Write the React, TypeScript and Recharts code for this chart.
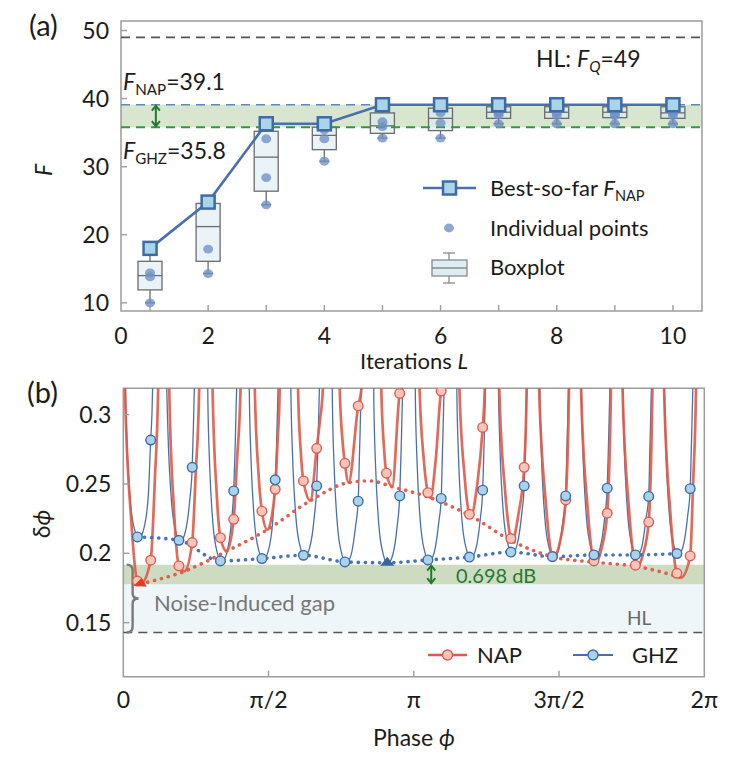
import React from 'react'
import { ComposedChart, Line, Bar, Scatter, XAxis, YAxis, ReferenceLine, ReferenceArea } from 'recharts'

const FONT = "Lato, 'DejaVu Sans', sans-serif"
const INK = '#1b1b1b'
const FRAME = '#9c9c9c'

// ---------- (a) Fisher information vs iterations ----------
const iterations = [1, 2, 3, 4, 5, 6, 7, 8, 9, 10]
const bestSoFarF = [18.0, 24.8, 36.3, 36.3, 39.1, 39.1, 39.1, 39.1, 39.1, 39.1]
// [min, q1, median, q3, max]
const boxStats = [
  [10.0, 11.9, 14.0, 16.1, 18.0],
  [14.3, 16.1, 21.2, 24.6, 24.8],
  [24.4, 26.4, 31.4, 35.2, 36.3],
  [30.8, 32.5, 34.6, 35.8, 36.3],
  [34.2, 34.9, 36.0, 37.9, 39.1],
  [34.2, 35.3, 37.1, 38.6, 39.1],
  [36.3, 37.1, 38.0, 38.8, 39.1],
  [36.3, 37.1, 38.0, 38.8, 39.1],
  [36.3, 37.2, 38.0, 38.8, 39.1],
  [36.3, 37.1, 37.9, 38.8, 39.1],
]
const individualF = [
  [18.0, 14.4, 13.8, 10.0],
  [24.8, 17.9, 14.3],
  [36.3, 34.1, 28.4, 24.4],
  [36.3, 35.4, 34.1, 30.8],
  [39.1, 36.6, 35.9, 34.2],
  [39.1, 37.9, 36.4, 34.2],
  [39.1, 37.9, 37.6, 36.3],
  [39.1, 37.9, 37.5, 36.3],
  [39.1, 37.8, 37.5, 36.3],
  [39.1, 37.9, 37.5, 36.3],
]
const fTicks = [10, 20, 30, 40, 50]
const iterTicks = [0.5, 1, 2, 3, 4, 5, 6, 7, 8, 9, 10]
const iterTickLabels: Record<string, string> = { '0.5': '0', '2': '2', '4': '4', '6': '6', '8': '8', '10': '10' }
const F_Q = 49
const F_NAP = 39.1
const F_GHZ = 35.8

// ---------- (b) phase sensitivity, phase in units of pi/7 ----------
const phaseTicks = [0, 3.5, 7, 10.5, 14]
const phaseTickLabels = ['0', 'π/2', 'π', '3π/2', '2π']
const dphiTicks = [0.15, 0.2, 0.25, 0.3]
const HL = 0.1429
const NAP_BEST = 0.1777
const GHZ_BEST = 0.1918

const ghzCurve = [
  [0, 0.42], [0.04, 0.333], [0.08, 0.287], [0.16, 0.2405], [0.27, 0.2173], [0.34, 0.2118], [0.38, 0.211], [0.49, 0.2173], [0.6, 0.2405], [0.66, 0.2817], [0.69, 0.3], [0.73, 0.35], [0.78, 0.42],
  [1, 0.42], [1.04, 0.3297], [1.08, 0.2838], [1.16, 0.2379], [1.27, 0.215], [1.34, 0.2094], [1.38, 0.2087], [1.49, 0.215], [1.6, 0.2379], [1.66, 0.262], [1.69, 0.2922], [1.73, 0.3423], [1.78, 0.42],
  [2, 0.42], [2.04, 0.3065], [2.08, 0.2638], [2.16, 0.2212], [2.27, 0.1998], [2.34, 0.1945], [2.38, 0.194], [2.49, 0.1998], [2.6, 0.2212], [2.66, 0.245], [2.69, 0.2716], [2.73, 0.3182], [2.78, 0.42],
  [3, 0.42], [3.04, 0.3089], [3.08, 0.2659], [3.16, 0.2229], [3.27, 0.2014], [3.34, 0.1962], [3.38, 0.1955], [3.49, 0.2014], [3.6, 0.2229], [3.66, 0.253], [3.69, 0.2737], [3.73, 0.3206], [3.78, 0.42],
  [4, 0.42], [4.04, 0.3128], [4.08, 0.2693], [4.16, 0.2257], [4.27, 0.2039], [4.34, 0.1986], [4.38, 0.198], [4.49, 0.2039], [4.6, 0.2257], [4.66, 0.2486], [4.69, 0.2772], [4.73, 0.3247], [4.78, 0.42],
  [5, 0.42], [5.04, 0.3053], [5.08, 0.2628], [5.16, 0.2202], [5.27, 0.199], [5.34, 0.1938], [5.38, 0.1932], [5.49, 0.199], [5.6, 0.2202], [5.66, 0.2376], [5.69, 0.2705], [5.73, 0.3168], [5.78, 0.42],
  [6, 0.42], [6.04, 0.3046], [6.08, 0.2622], [6.16, 0.2198], [6.27, 0.1986], [6.34, 0.1933], [6.38, 0.1928], [6.49, 0.1986], [6.6, 0.2198], [6.66, 0.2414], [6.69, 0.2699], [6.73, 0.3162], [6.78, 0.42],
  [7, 0.42], [7.04, 0.3075], [7.08, 0.2647], [7.16, 0.2218], [7.27, 0.2004], [7.34, 0.1952], [7.38, 0.1946], [7.49, 0.2004], [7.6, 0.2218], [7.66, 0.2396], [7.69, 0.2724], [7.73, 0.3191], [7.78, 0.42],
  [8, 0.42], [8.04, 0.3108], [8.08, 0.2675], [8.16, 0.2242], [8.27, 0.2026], [8.34, 0.1973], [8.38, 0.1967], [8.49, 0.2026], [8.6, 0.2242], [8.66, 0.2455], [8.69, 0.2754], [8.73, 0.3226], [8.78, 0.42],
  [9, 0.42], [9.04, 0.3165], [9.08, 0.2724], [9.16, 0.2283], [9.27, 0.2063], [9.34, 0.2009], [9.38, 0.2003], [9.49, 0.2063], [9.6, 0.2283], [9.66, 0.2486], [9.69, 0.2804], [9.73, 0.3285], [9.78, 0.42],
  [10, 0.42], [10.04, 0.3113], [10.08, 0.2679], [10.16, 0.2246], [10.27, 0.2029], [10.34, 0.1976], [10.38, 0.197], [10.49, 0.2029], [10.6, 0.2246], [10.66, 0.2414], [10.69, 0.2758], [10.73, 0.3231], [10.78, 0.42],
  [11, 0.42], [11.04, 0.3132], [11.08, 0.2696], [11.16, 0.2259], [11.27, 0.2041], [11.34, 0.1988], [11.38, 0.1982], [11.49, 0.2041], [11.6, 0.2259], [11.66, 0.247], [11.69, 0.2775], [11.73, 0.325], [11.78, 0.42],
  [12, 0.42], [12.04, 0.3132], [12.08, 0.2696], [12.16, 0.2259], [12.27, 0.2041], [12.34, 0.1988], [12.38, 0.1982], [12.49, 0.2041], [12.6, 0.2259], [12.66, 0.241], [12.69, 0.2775], [12.73, 0.325], [12.78, 0.42],
  [13, 0.42], [13.04, 0.3147], [13.08, 0.2709], [13.16, 0.2271], [13.27, 0.2052], [13.34, 0.1998], [13.38, 0.1992], [13.49, 0.2052], [13.6, 0.2271], [13.66, 0.2466], [13.69, 0.2789], [13.73, 0.3267], [13.78, 0.42], [14, 0.42],
]

const napCurve = [
  [0, 0.4], [0.04, 0.319], [0.19, 0.2245], [0.34, 0.18], [0.42, 0.178], [0.66, 0.195], [0.76, 0.253], [0.84, 0.319], [0.89, 0.42],
  [1.067, 0.42], [1.107, 0.319], [1.22, 0.232], [1.34, 0.1909], [1.47, 0.187], [1.66, 0.2077], [1.745, 0.258], [1.829, 0.319], [1.87, 0.42],
  [2.11, 0.42], [2.151, 0.319], [2.245, 0.246], [2.34, 0.2113], [2.49, 0.2015], [2.66, 0.2245], [2.74, 0.267], [2.825, 0.319], [2.865, 0.42],
  [3.13, 0.42], [3.169, 0.319], [3.255, 0.259], [3.34, 0.2304], [3.47, 0.217], [3.66, 0.2462], [3.715, 0.279], [3.77, 0.319], [3.81, 0.42],
  [4.17, 0.42], [4.21, 0.319], [4.275, 0.274], [4.34, 0.2522], [4.51, 0.238], [4.66, 0.2757], [4.735, 0.295], [4.81, 0.319], [4.85, 0.42],
  [5.175, 0.42], [5.215, 0.319], [5.28, 0.282], [5.34, 0.2649], [5.43, 0.251], [5.66, 0.3063], [5.74, 0.319], [5.78, 0.42],
  [6.177, 0.42], [6.217, 0.319], [6.28, 0.277], [6.34, 0.2578], [6.48, 0.248], [6.66, 0.3153], [6.69, 0.319], [6.72, 0.42],
  [7.1, 0.42], [7.139, 0.319], [7.24, 0.268], [7.34, 0.2437], [7.4, 0.24], [7.53, 0.268], [7.66, 0.317], [7.68, 0.319], [7.71, 0.42],
  [8.06, 0.42], [8.1, 0.319], [8.22, 0.257], [8.34, 0.2281], [8.38, 0.2268], [8.52, 0.248], [8.66, 0.2908], [8.71, 0.319], [8.75, 0.42],
  [9.02, 0.42], [9.06, 0.319], [9.2, 0.245], [9.34, 0.2106], [9.37, 0.2088], [9.52, 0.228], [9.66, 0.262], [9.72, 0.319], [9.76, 0.42],
  [9.98, 0.42], [10.02, 0.319], [10.18, 0.237], [10.34, 0.1978], [10.37, 0.1973], [10.52, 0.208], [10.66, 0.2385], [10.74, 0.319], [10.78, 0.42],
  [10.99, 0.42], [11.03, 0.319], [11.185, 0.234], [11.34, 0.1945], [11.39, 0.1935], [11.52, 0.203], [11.66, 0.2289], [11.75, 0.319], [11.79, 0.42],
  [11.99, 0.42], [12.03, 0.319], [12.185, 0.232], [12.34, 0.1914], [12.39, 0.1904], [12.52, 0.199], [12.66, 0.2225], [12.75, 0.319], [12.79, 0.42],
  [12.99, 0.42], [13.03, 0.319], [13.185, 0.228], [13.34, 0.1856], [13.44, 0.1825], [13.66, 0.1981], [13.73, 0.25], [13.8, 0.319], [13.84, 0.42], [14, 0.42],
]

const napMarkers = [
  [0.34, 0.18], [0.66, 0.195], [1.34, 0.1909], [1.66, 0.2077], [2.34, 0.2113], [2.66, 0.2245], [3.34, 0.2304], [3.66, 0.2462],
  [4.34, 0.2522], [4.66, 0.2757], [5.34, 0.2649], [5.66, 0.3063], [6.34, 0.2578], [6.66, 0.3153], [7.34, 0.2437], [7.66, 0.317],
  [8.34, 0.2281], [8.66, 0.2908], [9.34, 0.2106], [9.66, 0.262], [10.34, 0.1978], [10.66, 0.2385], [11.34, 0.1945], [11.66, 0.2289],
  [12.34, 0.1914], [12.66, 0.2225], [13.34, 0.1856], [13.66, 0.1981],
]
const ghzMarkers = [
  [0.34, 0.2118], [0.66, 0.2817], [1.34, 0.2094], [1.66, 0.262], [2.34, 0.1945], [2.66, 0.245], [3.34, 0.1962], [3.66, 0.253],
  [4.34, 0.1986], [4.66, 0.2486], [5.34, 0.1938], [5.66, 0.2376], [6.66, 0.2414], [7.34, 0.1952], [7.66, 0.2396],
  [8.34, 0.1973], [8.66, 0.2455], [9.34, 0.2009], [9.66, 0.2486], [10.34, 0.1976], [10.66, 0.2414], [11.34, 0.1988], [11.66, 0.247],
  [12.34, 0.1988], [12.66, 0.241], [13.34, 0.1998], [13.66, 0.2466],
]
const napEnvelope = [
  [0.42, 0.178], [1.47, 0.187], [2.49, 0.2015], [3.47, 0.217], [4.51, 0.238], [5.43, 0.251], [5.95, 0.2522], [6.48, 0.248],
  [7.4, 0.24], [8.38, 0.2268], [9.37, 0.2088], [10.37, 0.1973], [11.39, 0.1935], [12.39, 0.1904], [13.44, 0.1825],
]
const ghzEnvelope = [
  [0.34, 0.2118], [1.34, 0.2094], [2.34, 0.1945], [3.34, 0.1962], [4.34, 0.1986], [5.34, 0.1938], [6.36, 0.1932],
  [7.34, 0.1952], [8.34, 0.1973], [9.34, 0.2009], [10.34, 0.1976], [11.34, 0.1988], [12.34, 0.1988], [13.34, 0.1998],
]
const napOptimum = [[0.42, 0.178]]
const ghzOptimum = [[6.36, 0.1932]]

const toPts = (arr: number[][]) => arr.map(([phi, d]) => ({ phi, d }))

const iterData = iterations.map((L, i) => ({ L, best: bestSoFarF[i], box: [boxStats[i][1], boxStats[i][3]], stats: boxStats[i] }))
const pointData = iterations.flatMap((L, i) => individualF[i].map((F) => ({ L, F })))

// ---------- shapes ----------
function BoxShape(props: any) {
  const { x, y, width, height, payload } = props
  const [mn, q1, med, q3, mx] = payload.stats
  const k = height / (q3 - q1)
  const py = (v: number) => y + (q3 - v) * k
  const cx = x + width / 2
  const st = { stroke: '#6b6b6b', strokeWidth: 1.3 }
  return (
    <g>
      <line x1={cx} x2={cx} y1={py(mx)} y2={y} {...st} />
      <line x1={cx} x2={cx} y1={y + height} y2={py(mn)} {...st} />
      <line x1={cx - 5} x2={cx + 5} y1={py(mx)} y2={py(mx)} {...st} />
      <line x1={cx - 5} x2={cx + 5} y1={py(mn)} y2={py(mn)} {...st} />
      <rect x={x} y={y} width={width} height={height} fill="#dcedf4" fillOpacity={0.6} {...st} />
      <line x1={x} x2={x + width} y1={py(med)} y2={py(med)} {...st} />
    </g>
  )
}

const PointDot = (p: any) => <ellipse cx={p.cx} cy={p.cy} rx={5} ry={4.4} fill="#6f8fc4" fillOpacity={0.78} />
const SquareDot = (p: any) => (
  <rect key={`sq-${p.index}`} x={p.cx - 6.5} y={p.cy - 6.5} width={13} height={13} fill="#a9d5ea" stroke="#3f6aa6" strokeWidth={2.5} />
)
const NapDot = (p: any) => <circle cx={p.cx} cy={p.cy} r={4.8} fill="#f8c4bb" stroke="#df5f4e" strokeWidth={1.4} />
const GhzDot = (p: any) => <circle cx={p.cx} cy={p.cy} r={4.8} fill="#a8d3ea" stroke="#3f6aa9" strokeWidth={1.4} />
const RedHead = (p: any) => (
  <polygon points={`${p.cx - 7},${p.cy + 2} ${p.cx + 1},${p.cy - 6} ${p.cx + 6},${p.cy + 3}`} fill="#e23b2c" />
)
const BlueHead = (p: any) => (
  <polygon points={`${p.cx},${p.cy - 6} ${p.cx - 7},${p.cy + 3} ${p.cx + 7},${p.cy + 3}`} fill="#3b64a3" />
)

function DoubleArrow(props: any) {
  const { x1, y1, y2 } = props
  const c = '#1f7a2c'
  const top = Math.min(y1, y2) + 1
  const bot = Math.max(y1, y2) - 1
  return (
    <g fill="none" stroke={c} strokeWidth={2}>
      <line x1={x1} x2={x1} y1={top} y2={bot} />
      <polyline points={`${x1 - 4},${top + 5} ${x1},${top} ${x1 + 4},${top + 5}`} />
      <polyline points={`${x1 - 4},${bot - 5} ${x1},${bot} ${x1 + 4},${bot - 5}`} />
    </g>
  )
}

function Brace(props: any) {
  const { x1, y1, y2 } = props
  const top = Math.min(y1, y2)
  const bot = Math.max(y1, y2)
  const mid = (top + bot) / 2
  const d = `M${x1},${top} Q${x1 + 6},${top} ${x1 + 6},${top + 6} L${x1 + 6},${mid - 5} Q${x1 + 6},${mid} ${x1 + 12},${mid} Q${x1 + 6},${mid} ${x1 + 6},${mid + 5} L${x1 + 6},${bot - 6} Q${x1 + 6},${bot} ${x1},${bot}`
  return <path d={d} fill="none" stroke="#7a7a7a" strokeWidth={2.4} />
}

// ---------- ticks (inward tick marks) ----------
const tickText = { fontSize: 23, fontFamily: FONT, fill: INK }
const XTickA = (p: any) => {
  const v = p.payload.value
  const axisY = p.y - 17
  const label = iterTickLabels[String(v)]
  return (
    <g>
      {Number.isInteger(v) && <line x1={p.x} x2={p.x} y1={axisY} y2={axisY - 6} stroke={FRAME} strokeWidth={1.4} />}
      {label !== undefined && <text x={p.x} y={p.y} dy="0.71em" textAnchor="middle" {...tickText}>{label}</text>}
    </g>
  )
}
const YTickA = (p: any) => {
  const axisX = p.x + 12
  return (
    <g>
      <line x1={axisX} x2={axisX + 6} y1={p.y} y2={p.y} stroke={FRAME} strokeWidth={1.4} />
      <text x={p.x} y={p.y} dy="0.355em" textAnchor="end" {...tickText}>{p.payload.value}</text>
    </g>
  )
}
const XTickB = (p: any) => {
  const v = p.payload.value
  const axisY = p.y - 15
  const i = phaseTicks.indexOf(v)
  return (
    <g>
      {v > 0 && v < 14 && <line x1={p.x} x2={p.x} y1={axisY} y2={axisY - 6} stroke={FRAME} strokeWidth={1.4} />}
      <text x={p.x} y={p.y} dy="0.71em" textAnchor="middle" {...tickText}>{phaseTickLabels[i]}</text>
    </g>
  )
}
const YTickB = (p: any) => {
  const axisX = p.x + 12
  return (
    <g>
      <line x1={axisX} x2={axisX + 6} y1={p.y} y2={p.y} stroke={FRAME} strokeWidth={1.4} />
      <text x={p.x} y={p.y} dy="0.355em" textAnchor="end" {...tickText}>{String(p.payload.value)}</text>
    </g>
  )
}

// ---------- text helper ----------
function T(props: { x: number; y: number; size?: number; color?: string; mid?: boolean; rot?: boolean; children: React.ReactNode }) {
  const { x, y, size = 22, color = INK, mid, rot, children } = props
  const tr = `translate(${mid || rot ? '-50%' : '0'}, -50%)${rot ? ' rotate(-90deg)' : ''}`
  return (
    <div style={{ position: 'absolute', left: x, top: y, transform: tr, fontSize: size, color, whiteSpace: 'nowrap', lineHeight: 1, fontFamily: FONT }}>
      {children}
    </div>
  )
}
const Sub = ({ children }: { children: React.ReactNode }) => (
  <span style={{ fontSize: '0.66em', position: 'relative', top: '0.32em' }}>{children}</span>
)

function TopPanel() {
  return (
    <div style={{ position: 'absolute', left: 0, top: 0 }}>
      <ComposedChart width={751} height={370} data={iterData} margin={{ top: 21, right: 49, bottom: 29, left: 61 }}>
        <XAxis type="number" dataKey="L" domain={[0.5, 10.5]} ticks={iterTicks} interval={0} height={30} axisLine={false} tickLine={false} tickSize={0} tickMargin={17} tick={XTickA} allowDataOverflow />
        <YAxis type="number" domain={[8.8, 51.4]} ticks={fTicks} interval={0} width={60} axisLine={false} tickLine={false} tickSize={0} tickMargin={12} tick={YTickA} allowDataOverflow />
        <ReferenceArea y1={F_GHZ} y2={F_NAP} fill="#d8e5cf" fillOpacity={1} stroke="none" />
        <ReferenceLine y={F_Q} stroke="#555" strokeDasharray="9 6" strokeWidth={1.6} />
        <ReferenceLine y={F_NAP} stroke="#5f87c2" strokeDasharray="9 6" strokeWidth={1.6} />
        <ReferenceLine y={F_GHZ} stroke="#2f9a3d" strokeDasharray="9 6" strokeWidth={2} />
        <ReferenceLine segment={[{ x: 1.1, y: F_NAP }, { x: 1.1, y: F_GHZ }]} shape={DoubleArrow} />
        <Bar dataKey="box" barSize={24} shape={BoxShape} isAnimationActive={false} />
        <Scatter data={pointData} dataKey="F" shape={PointDot} isAnimationActive={false} />
        <Line dataKey="best" stroke="#4a70ab" strokeWidth={2.6} dot={SquareDot} activeDot={false} isAnimationActive={false} />
        <ReferenceArea x1={0.5} x2={10.5} y1={8.8} y2={51.4} fill="none" stroke={FRAME} strokeWidth={1.5} />
      </ComposedChart>
    </div>
  )
}

function BottomPanel() {
  const dotted = { strokeDasharray: '0.1 7', strokeLinecap: 'round' as const, strokeWidth: 3.6 }
  return (
    <div style={{ position: 'absolute', left: 0, top: 370 }}>
      <ComposedChart width={751} height={394} margin={{ top: 18.3, right: 46.7, bottom: 57.3, left: 63.3 }}>
        <XAxis type="number" dataKey="phi" domain={[0, 14]} ticks={phaseTicks} interval={0} height={30} axisLine={false} tickLine={false} tickSize={0} tickMargin={15} tick={XTickB} allowDataOverflow />
        <YAxis type="number" dataKey="d" domain={[0.111, 0.319]} ticks={dphiTicks} interval={0} width={60} axisLine={false} tickLine={false} tickSize={0} tickMargin={12} tick={YTickB} allowDataOverflow />
        <ReferenceArea y1={HL} y2={NAP_BEST} fill="#eef6fa" fillOpacity={1} stroke="none" />
        <ReferenceArea y1={NAP_BEST} y2={GHZ_BEST} fill="#cddcc1" fillOpacity={1} stroke="none" />
        <ReferenceLine y={HL} stroke="#555" strokeDasharray="9 6" strokeWidth={1.6} />
        <ReferenceLine segment={[{ x: 0.08, y: GHZ_BEST }, { x: 0.08, y: HL }]} shape={Brace} />
        <ReferenceLine segment={[{ x: 7.42, y: GHZ_BEST }, { x: 7.42, y: NAP_BEST }]} shape={DoubleArrow} />
        <Line data={toPts(ghzCurve)} dataKey="d" type="monotone" stroke="#4a6fae" strokeWidth={1.3} dot={false} activeDot={false} isAnimationActive={false} />
        <Line data={toPts(napCurve)} dataKey="d" type="monotone" stroke="#de5a47" strokeOpacity={0.9} strokeWidth={2.7} dot={false} activeDot={false} isAnimationActive={false} />
        <Line data={toPts(napEnvelope)} dataKey="d" type="monotone" stroke="#e0604f" {...dotted} dot={false} activeDot={false} isAnimationActive={false} />
        <Line data={toPts(ghzEnvelope)} dataKey="d" type="monotone" stroke="#4a72b5" {...dotted} dot={false} activeDot={false} isAnimationActive={false} />
        <Scatter data={toPts(napMarkers)} dataKey="d" shape={NapDot} isAnimationActive={false} />
        <Scatter data={toPts(ghzMarkers)} dataKey="d" shape={GhzDot} isAnimationActive={false} />
        <Scatter data={toPts(napOptimum)} dataKey="d" shape={RedHead} isAnimationActive={false} />
        <Scatter data={toPts(ghzOptimum)} dataKey="d" shape={BlueHead} isAnimationActive={false} />
        <ReferenceArea x1={0} x2={14} y1={0.111} y2={0.319} fill="none" stroke={FRAME} strokeWidth={1.5} />
      </ComposedChart>
    </div>
  )
}

function Legends() {
  return (
    <svg width={751} height={764} style={{ position: 'absolute', left: 0, top: 0, pointerEvents: 'none' }}>
      <line x1={423} x2={476} y1={188} y2={188} stroke="#4a70ab" strokeWidth={2.6} />
      <rect x={443} y={181.5} width={13} height={13} fill="#a9d5ea" stroke="#3f6aa6" strokeWidth={2.5} />
      <ellipse cx={449} cy={228} rx={5} ry={4.4} fill="#6f8fc4" fillOpacity={0.78} />
      <g stroke="#8a8a8a" strokeWidth={1.3}>
        <line x1={449} x2={449} y1={253} y2={260} />
        <line x1={449} x2={449} y1={276} y2={283} />
        <line x1={443} x2={455} y1={253} y2={253} />
        <line x1={443} x2={455} y1={283} y2={283} />
        <rect x={432} y={260} width={35} height={16} fill="#dcedf4" />
        <line x1={432} x2={467} y1={268} y2={268} />
      </g>
      <line x1={428} x2={467} y1={655} y2={655} stroke="#de5a47" strokeWidth={2.6} />
      <circle cx={447.5} cy={655} r={5} fill="#f8c4bb" stroke="#df5f4e" strokeWidth={1.4} />
      <line x1={573} x2={613} y1={655} y2={655} stroke="#4a6fae" strokeWidth={2} />
      <circle cx={593} cy={655} r={5} fill="#a8d3ea" stroke="#3f6aa9" strokeWidth={1.4} />
    </svg>
  )
}

export default function App() {
  return (
    <div style={{ position: 'absolute', left: 0, top: 0, width: 751, height: 764, background: '#fff', fontFamily: FONT, overflow: 'hidden' }}>
      <TopPanel />
      <BottomPanel />
      <Legends />
      {/* panel (a) texts */}
      <T x={29} y={24} size={29}>(a)</T>
      <T x={43} y={170} size={23} rot><i>F</i></T>
      <T x={414} y={361} size={22} mid>Iterations <i>L</i></T>
      <T x={536} y={58} size={23}>HL: <i>F</i><Sub><i>Q</i></Sub>=49</T>
      <T x={123} y={81} size={23}><i>F</i><Sub>NAP</Sub>=39.1</T>
      <T x={123} y={150} size={23}><i>F</i><Sub>GHZ</Sub>=35.8</T>
      <T x={490} y={188} size={22}>Best-so-far <i>F</i><Sub>NAP</Sub></T>
      <T x={490} y={228} size={22}>Individual points</T>
      <T x={490} y={267} size={22}>Boxplot</T>
      {/* panel (b) texts */}
      <T x={27} y={391} size={29}>(b)</T>
      <T x={41} y={524} size={23} rot>δ<i>ϕ</i></T>
      <T x={414} y={737} size={23} mid>Phase <i>ϕ</i></T>
      <T x={154} y={603} size={22} color="#777">Noise-Induced gap</T>
      <T x={456} y={575} size={20} color="#237a2f">0.698 dB</T>
      <T x={627} y={617} size={19} color="#666">HL</T>
      <T x={477} y={655} size={22}>NAP</T>
      <T x={632} y={655} size={22}>GHZ</T>
    </div>
  )
}
